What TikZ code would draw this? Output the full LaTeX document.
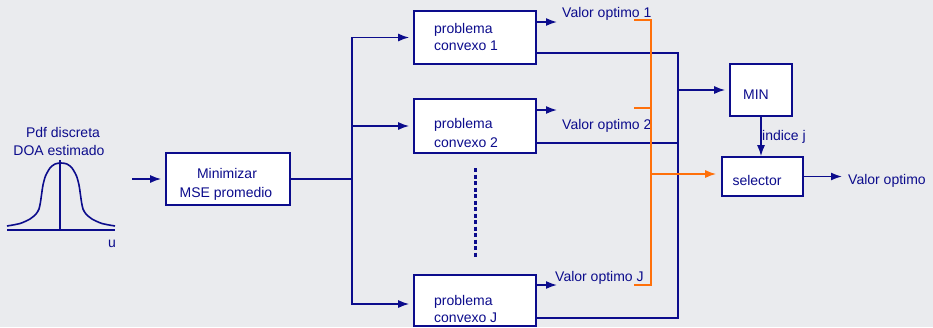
\documentclass[tikz,border=0pt]{standalone}
\usepackage{fontspec}
\setmainfont{Liberation Sans}
\usetikzlibrary{arrows.meta,calc}
\definecolor{navy}{RGB}{12,12,140}
\definecolor{orng}{RGB}{255,112,10}
\definecolor{bgc}{RGB}{234,235,238}
\begin{document}
\begin{tikzpicture}[x=1pt,y=-1pt,
 wire/.style={draw=navy, line width=1.6pt},
 arr/.style={wire, -{Latex[length=11pt,width=8pt]}, shorten >=4pt},
 oline/.style={draw=orng, line width=1.6pt},
 oarr/.style={oline, -{Latex[length=11pt,width=8pt]}, shorten >=5pt},
 box/.style={draw=navy, fill=white, line width=1.6pt, inner sep=0pt},
 txt/.style={text=navy, font=\fontsize{14}{17}\selectfont, inner sep=0pt},
]
\fill[bgc] (0,0) rectangle (933,327);
\useasboundingbox (0,0) rectangle (933,327);

% pdf sketch
\draw[wire, line join=round] plot[smooth, tension=0.45] coordinates {
 (7,226) (20,223.5) (30,219) (36,214) (39,209) (40.5,202) (41.5,195)
 (43,185) (45.5,176) (50,168) (55,164) (61,163) (67,164) (72,168)
 (76.5,176) (79,185) (80.5,195) (81.5,202) (83,209) (86,214) (92,219)
 (102,223.5) (115,226)};
\draw[wire] (7,230) -- (115,230);
\draw[wire] (60,160) -- (60,230);
\node[txt, anchor=base] (pdf1) at (63,137) {Pdf discreta};
\node[txt, anchor=base] (pdf2) at (59,155) {DOA estimado};
\node[txt, anchor=base] (uu) at (112,247) {u};

% boxes
\node[box, minimum width=124pt, minimum height=52pt] (mse) at (228,179) {};
\node[box, minimum width=122pt, minimum height=53pt] (p1) at (475,37.5) {};
\node[box, minimum width=122pt, minimum height=54pt] (p2) at (475,126) {};
\node[box, minimum width=122pt, minimum height=51pt] (pJ) at (475,300.5) {};
\node[box, minimum width=62pt, minimum height=52pt] (min) at (761,90) {};
\node[box, minimum width=81pt, minimum height=39pt] (sel) at (762.5,176.5) {};

% box texts
\node[txt, anchor=base] (mse1) at (227,178) {Minimizar};
\node[txt, anchor=base] (mse2) at (226,197) {MSE promedio};
\node[txt, anchor=base west] (p1a) at (434,33) {problema};
\node[txt, anchor=base west] (p1b) at (434,50) {convexo 1};
\node[txt, anchor=base west] (p2a) at (434,128) {problema};
\node[txt, anchor=base west] (p2b) at (434,147) {convexo 2};
\node[txt, anchor=base west] (pJa) at (434,305) {problema};
\node[txt, anchor=base west] (pJb) at (434,322) {convexo J};
\node[txt, anchor=base] (mint) at (756,99) {MIN};
\node[txt, anchor=base] (selt) at (757,185) {selector};

% labels
\node[txt, anchor=base west] (v1) at (562,17) {Valor optimo 1};
\node[txt, anchor=base west] (v2) at (562,129) {Valor optimo 2};
\node[txt, anchor=base west] (vJ) at (555,281) {Valor optimo J};
\node[txt, anchor=base west] (vout) at (848,184) {Valor optimo};
\node[txt, anchor=base west] (idx) at (762,140) {indice j};

% input and bus
\coordinate (in) at (132,179);
\draw[arr] (in) -- (mse.west);
\coordinate (bus) at (352,179);
\draw[wire] (mse.east) -- (bus);
\draw[arr] (bus) |- (p1.west);
\draw[arr] (bus) |- (p2.west);
\draw[arr] (bus) |- ([yshift=-3.5pt]pJ.west);

% dots
\draw[navy, line width=3pt, dash pattern=on 4pt off 2.5pt] (475,168) -- (475,258);

% value outputs
\coordinate (o1) at (557,22);
\coordinate (o2) at (557,110);
\coordinate (oJ) at (557,285);
\draw[arr, shorten >=0pt] (p1.east |- o1) -- (o1);
\draw[arr, shorten >=0pt] (p2.east |- o2) -- (o2);
\draw[arr, shorten >=0pt] (pJ.east |- oJ) -- (oJ);

% trunk to MIN
\coordinate (t1) at (678,53);
\coordinate (t2) at (678,143);
\coordinate (tJ) at (678,318);
\coordinate (tm) at (678,90);
\draw[wire] (p1.east |- t1) -- (t1) -- (tJ) -- (pJ.east |- tJ);
\draw[wire] (p2.east |- t2) -- (t2);
\draw[arr] (tm) -- (min.west);

% MIN to selector
\draw[arr, shorten >=0pt] (min.south) -- (min.south |- sel.north);
\coordinate (so) at (842,176.5);
\draw[arr, shorten >=0pt] (sel.east) -- (so);

% orange selection
\coordinate (ot) at (651,20);
\coordinate (om) at (651,108);
\coordinate (ob) at (651,285);
\coordinate (oj) at (651,174);
\draw[oline] (634,20) -- (ot) -- (ob) -- (634,285);
\draw[oline] (634,108) -- (om);
\draw[oarr] (oj) -- (oj -| sel.west);
\end{tikzpicture}
\end{document}
